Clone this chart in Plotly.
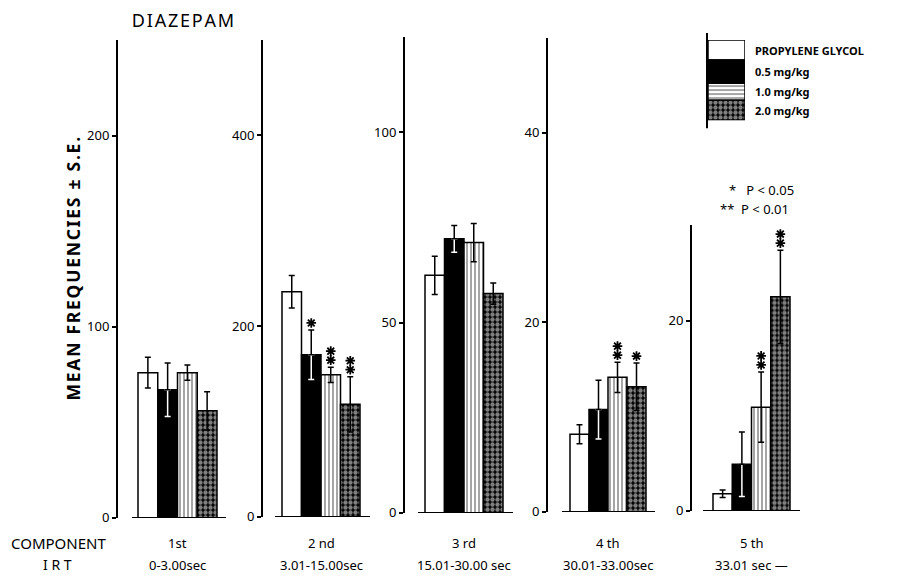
import plotly.graph_objects as go

# ---------------- data ----------------
components = ["1st", "2 nd", "3 rd", "4 th", "5 th"]
irt_labels = ["0-3.00sec", "3.01-15.00sec", "15.01-30.00 sec", "30.01-33.00sec", "33.01 sec \u2014"]
series_names = ["PROPYLENE GLYCOL", "0.5 mg/kg", "1.0 mg/kg", "2.0 mg/kg"]

pg_mean = [76, 236, 62.4, 8.2, 1.8]
pg_se = [8, 17, 5.0, 1.0, 0.4]
d05_mean = [67, 170, 72, 10.8, 4.9]
d05_se = [14, 26, 3.5, 3.1, 3.4]
d10_mean = [76, 149, 71, 14.2, 10.9]
d10_se = [4, 8, 5.0, 1.6, 3.7]
d20_mean = [56, 118, 57.6, 13.2, 22.5]
d20_se = [10, 29, 2.8, 2.5, 4.9]

pg_sig = [0, 0, 0, 0, 0]
d05_sig = [0, 1, 0, 0, 0]   # number of stars
d10_sig = [0, 2, 0, 2, 2]
d20_sig = [0, 2, 0, 1, 2]

y_max = [250, 500, 125, 50, 30]
y_ticks = [[0, 100, 200], [0, 200, 400], [0, 50, 100], [0, 20, 40], [0, 20]]

legend_heights = [20, 23, 17, 20]  # white, black, striped, checked (top to bottom)

# ---------------- layout geometry (pixels of the 897x578 target) ----------------
W, H = 897, 578
FIG_H = 588  # page viewport is slightly taller than the photographed area
axis_px = [118, 263, 405, 548, 692]
bar_left_px = [138, 282, 425, 570, 713]
bar_w_px = [19.75, 19.5, 19.5, 19.0, 19.25]
base_start_px = [132, 275, 418, 562, 703]
base_end_px = [226, 370, 513, 655, 800]
zero_py = [517, 516, 512, 511, 510]
top_py = [40, 40, 37, 38, 225]

FONT = "Noto Sans"
HS = "\u200a"  # hair space used for letter spacing

def px(x):
    return x / W

def py(y):
    return 1 - y / H

def spaced(s):
    return HS.join(list(s))

means = [pg_mean, d05_mean, d10_mean, d20_mean]
ses = [pg_se, d05_se, d10_se, d20_se]
sigs = [pg_sig, d05_sig, d10_sig, d20_sig]

checker = dict(shape=".", fgcolor="white", bgcolor="black", size=5, solidity=0.6)
styles = [
    dict(color="white", pattern=None),
    dict(color="black", pattern=None),
    dict(color="white", pattern=dict(shape="|", fgcolor="black", bgcolor="white", size=4, solidity=0.35)),
    dict(color="black", pattern=checker),
]

fig = go.Figure()
layout = {}
shapes = []
annotations = []

for k in range(5):
    sfx = "" if k == 0 else str(k + 1)
    xa = "x" + sfx
    ya = "y" + sfx
    u = bar_w_px[k]
    x0 = -0.5 - (bar_left_px[k] - axis_px[k]) / u
    bar_right = bar_left_px[k] + 4 * u
    x1 = 3.5 + (base_end_px[k] - bar_right) / u
    ppu = (zero_py[k] - top_py[k]) / y_max[k]
    layout["xaxis" + sfx] = dict(domain=[px(axis_px[k]), px(base_end_px[k])], range=[x0, x1],
                                 visible=False, anchor=ya, fixedrange=True)
    layout["yaxis" + sfx] = dict(domain=[py(zero_py[k]), py(top_py[k])], range=[0, y_max[k]],
                                 anchor=xa, showline=True, linewidth=2, linecolor="black",
                                 ticks="outside", ticklen=4, tickwidth=1.5, tickcolor="black",
                                 tickvals=y_ticks[k], showgrid=False, zeroline=False,
                                 tickfont=dict(family=FONT, size=13, color="black"))
    for j in range(4):
        st = styles[j]
        marker = dict(color=st["color"], line=dict(color="black", width=1.5))
        if st["pattern"]:
            marker["pattern"] = st["pattern"]
        fig.add_trace(go.Bar(x=[j], y=[means[j][k]], width=1, marker=marker,
                             xaxis=xa, yaxis=ya, showlegend=False, name=series_names[j]))
    # white lower part of error bar inside the black bar
    fig.add_trace(go.Scatter(x=[1], y=[means[1][k]], mode="markers",
                             marker=dict(color="rgba(0,0,0,0)", size=1),
                             error_y=dict(type="data", symmetric=False, array=[0], arrayminus=[ses[1][k]],
                                          color="white", thickness=1.5, width=3),
                             xaxis=xa, yaxis=ya, showlegend=False, hoverinfo="skip"))
    # black error bars
    arr = [ses[j][k] for j in range(4)]
    arrm = [ses[j][k] for j in range(4)]
    arrm[1] = 0
    fig.add_trace(go.Scatter(x=[0, 1, 2, 3], y=[means[j][k] for j in range(4)], mode="markers",
                             marker=dict(color="rgba(0,0,0,0)", size=1),
                             error_y=dict(type="data", symmetric=False, array=arr, arrayminus=arrm,
                                          color="black", thickness=1.5, width=3),
                             xaxis=xa, yaxis=ya, showlegend=False, hoverinfo="skip"))
    # baseline
    bs = -0.5 - (bar_left_px[k] - base_start_px[k]) / u
    shapes.append(dict(type="line", xref=xa, yref=ya, x0=bs, x1=x1, y0=0, y1=0,
                       line=dict(color="black", width=2)))
    # significance stars (asterisk markers stacked above the error bar)
    sx, sy = [], []
    for j in range(4):
        top = means[j][k] + ses[j][k]
        for n in range(sigs[j][k]):
            sx.append(j)
            sy.append(top + (7 + 9 * n) / ppu)
    if sx:
        fig.add_trace(go.Scatter(x=sx, y=sy, mode="markers", xaxis=xa, yaxis=ya,
                                 marker=dict(symbol="asterisk-open", size=8, color="black",
                                             line=dict(color="black", width=1.8)),
                                 showlegend=False, hoverinfo="skip"))
    # component and IRT labels
    cx = (bar_left_px[k] + bar_right) / 2
    annotations.append(dict(x=px(cx), y=py(542), xref="paper", yref="paper", text=components[k],
                            showarrow=False, xanchor="center", yanchor="middle",
                            font=dict(family=FONT, size=13, color="black")))
    annotations.append(dict(x=px(cx), y=py(564), xref="paper", yref="paper", text=irt_labels[k],
                            showarrow=False, xanchor="center", yanchor="middle",
                            font=dict(family=FONT, size=13, color="black")))

# ---------------- legend box (as stacked bars) ----------------
leg_top, leg_bot = 40, 120
total = sum(legend_heights)
layout["xaxis6"] = dict(domain=[px(708), px(745)], range=[-0.5, 0.5], visible=False, anchor="y6")
layout["yaxis6"] = dict(domain=[py(leg_bot), py(leg_top)], range=[0, total], visible=False, anchor="x6")
leg_styles = [
    dict(color="white"),
    dict(color="black"),
    dict(color="white", pattern=dict(shape="-", fgcolor="black", bgcolor="white", size=4, solidity=0.35)),
    dict(color="black", pattern=checker),
]
base = total
for j in range(4):
    h = legend_heights[j]
    base -= h
    m = dict(color=leg_styles[j]["color"], line=dict(color="black", width=1.5))
    if "pattern" in leg_styles[j]:
        m["pattern"] = leg_styles[j]["pattern"]
    fig.add_trace(go.Bar(x=[0], y=[h], base=[base], width=1, marker=m, xaxis="x6", yaxis="y6",
                         showlegend=False, hoverinfo="skip"))
    ymid = leg_top + (total - base - h / 2) * (leg_bot - leg_top) / total
    annotations.append(dict(x=px(753), y=py(ymid), xref="paper", yref="paper",
                            text="<b>" + series_names[j] + "</b>",
                            showarrow=False, xanchor="left", yanchor="middle",
                            font=dict(family=FONT, size=11, color="black")))
shapes.append(dict(type="line", xref="paper", yref="paper", x0=px(707), x1=px(707), y0=py(33), y1=py(128),
                   line=dict(color="black", width=2)))

# p-value key
annotations.append(dict(x=px(727), y=py(190), xref="paper", yref="paper", text="*   P < 0.05",
                        showarrow=False, xanchor="left", yanchor="middle",
                        font=dict(family=FONT, size=13, color="black")))
annotations.append(dict(x=px(718), y=py(209), xref="paper", yref="paper", text="**  P < 0.01",
                        showarrow=False, xanchor="left", yanchor="middle",
                        font=dict(family=FONT, size=13, color="black")))

# titles
annotations.append(dict(x=px(182), y=py(20), xref="paper", yref="paper",
                        text=HS + spaced("DIAZEPAM"),
                        showarrow=False, xanchor="center", yanchor="middle",
                        font=dict(family=FONT, size=18, color="black")))
annotations.append(dict(x=px(73), y=py(268), xref="paper", yref="paper",
                        text="<b>" + spaced("MEAN FREQUENCIES \u00b1 S.E.") + "</b>", textangle=-90,
                        showarrow=False, xanchor="center", yanchor="middle",
                        font=dict(family=FONT, size=17.5, color="black")))
annotations.append(dict(x=px(58), y=py(542), xref="paper", yref="paper", text="COMPONENT",
                        showarrow=False, xanchor="center", yanchor="middle",
                        font=dict(family=FONT, size=15, color="black")))
annotations.append(dict(x=px(57), y=py(564), xref="paper", yref="paper", text="I R T",
                        showarrow=False, xanchor="center", yanchor="middle",
                        font=dict(family=FONT, size=14, color="black")))

fig.update_layout(width=W, height=FIG_H, margin=dict(l=0, r=0, t=0, b=0),
                  paper_bgcolor="white", plot_bgcolor="white", barmode="overlay",
                  shapes=shapes, annotations=annotations, **layout)

fig.write_html("out.html", config={"displayModeBar": False},
               post_script="document.body.style.margin='0';document.body.style.padding='0';")
